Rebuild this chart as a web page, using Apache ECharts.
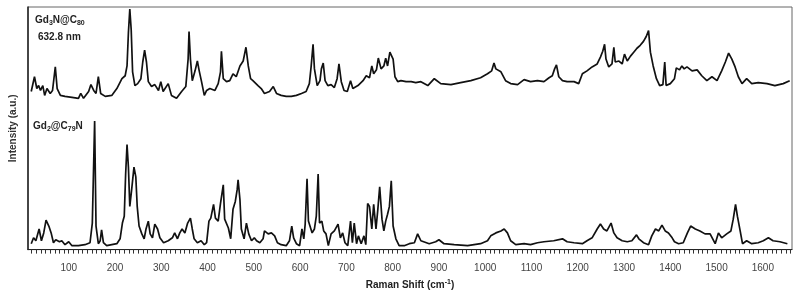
<!DOCTYPE html>
<html>
<head>
<meta charset="utf-8">
<script src="https://cdn.jsdelivr.net/npm/echarts@6/dist/echarts.min.js"></script>
<style>
  html, body { margin: 0; padding: 0; background: #fff; }
  #chart { width: 800px; height: 295px; }
</style>
</head>
<body>
<div id="chart"></div>
<script>
// Raman spectra: [shift cm-1, intensity a.u. (offset stacked)]
const gd3nC80 = [
  [19,161],[26,176],[31,164],[35,167],[39,162],[44,167],[48,157],[53,164],[60,159],[65,162],
  [71,186],[75,164],[82,157],[92,156],[107,155],[121,154],[126,159],[132,154],[143,161],[148,168],
  [154,162],[159,159],[164,176],[169,159],[179,156],[193,157],[204,164],[215,174],[222,177],[226,187],
  [229,221],[232,245],[235,224],[238,181],[243,167],[249,169],[256,174],[260,191],[264,203],[268,191],
  [272,171],[279,166],[286,168],[294,162],[299,171],[304,161],[315,169],[322,157],[333,154],[344,161],
  [353,166],[358,194],[360,222],[363,194],[367,172],[373,182],[378,192],[382,182],[387,171],[393,157],
  [398,162],[405,164],[416,162],[423,169],[428,181],[430,202],[434,174],[441,171],[448,172],[455,179],
  [462,176],[470,187],[477,192],[480,199],[483,206],[488,187],[493,174],[498,172],[502,174],[509,167],
  [516,164],[523,159],[534,161],[542,166],[549,159],[559,157],[570,156],[581,156],[592,157],[603,159],
  [613,161],[620,169],[624,187],[628,209],[631,184],[637,167],[643,172],[646,184],[650,190],[654,172],
  [660,167],[667,168],[674,165],[680,174],[684,189],[689,171],[695,162],[702,161],[709,172],[714,164],
  [725,167],[736,172],[743,177],[750,175],[755,187],[759,179],[765,183],[769,195],[775,184],[781,187],
  [785,195],[789,187],[794,201],[797,203],[801,194],[805,176],[811,171],[818,172],[829,171],[840,171],
  [850,170],[861,171],[876,167],[890,174],[904,169],[926,168],[947,170],[969,172],[990,175],[1005,179],
  [1014,182],[1019,190],[1023,184],[1034,181],[1044,172],[1055,169],[1070,168],[1084,173],[1098,171],[1113,172],
  [1127,171],[1138,175],[1145,177],[1150,184],[1154,188],[1159,176],[1167,172],[1177,171],[1192,171],[1202,169],
  [1210,179],[1220,182],[1231,186],[1242,189],[1249,196],[1254,202],[1258,209],[1261,194],[1267,186],[1274,189],
  [1278,206],[1281,191],[1289,192],[1296,189],[1301,199],[1307,192],[1314,197],[1321,201],[1328,205],[1335,208],
  [1342,212],[1348,217],[1353,223],[1357,201],[1363,187],[1370,174],[1377,167],[1384,168],[1388,191],[1391,167],
  [1400,169],[1409,174],[1413,185],[1420,183],[1425,187],[1430,184],[1436,186],[1447,182],[1458,183],[1468,177],
  [1479,172],[1490,176],[1501,172],[1511,182],[1519,191],[1526,200],[1533,194],[1540,186],[1547,176],[1555,169],
  [1565,174],[1576,169],[1590,170],[1609,169],[1626,167],[1644,169],[1658,172]
];

const gd2C79N = [
  [19,6],[24,12],[29,9],[36,21],[41,9],[46,17],[51,30],[57,24],[62,17],[67,7],
  [72,10],[80,8],[85,9],[92,5],[100,8],[107,4],[121,4],[135,5],[146,7],[151,27],
  [156,131],[159,24],[164,6],[168,9],[171,20],[175,7],[182,4],[193,5],[204,6],[211,11],
  [216,27],[220,34],[223,77],[226,107],[229,84],[232,44],[236,61],[241,84],[245,74],[248,44],
  [252,24],[258,16],[263,11],[267,21],[272,29],[276,16],[281,12],[286,26],[292,21],[297,12],
  [305,7],[315,9],[324,12],[329,17],[335,11],[340,17],[345,21],[351,17],[357,27],[363,32],
  [367,21],[371,11],[378,7],[386,9],[393,5],[398,7],[403,29],[407,32],[413,46],[417,32],
  [423,29],[428,47],[434,66],[437,31],[445,22],[450,11],[455,41],[460,49],[464,61],[466,71],
  [470,51],[473,21],[479,11],[484,27],[489,16],[495,9],[501,12],[506,9],[513,7],[520,11],
  [523,19],[531,16],[538,17],[545,14],[551,7],[559,5],[570,4],[577,9],[582,24],[586,12],
  [592,6],[599,4],[604,21],[608,11],[611,26],[615,72],[618,29],[622,31],[626,17],[631,21],
  [635,34],[639,77],[642,27],[647,29],[651,19],[656,16],[661,4],[667,16],[674,19],[682,26],
  [687,12],[692,17],[697,7],[703,4],[709,29],[713,7],[717,27],[722,6],[726,14],[732,6],
  [738,14],[742,5],[746,47],[750,44],[755,21],[759,46],[764,21],[768,41],[772,64],[777,31],
  [781,19],[785,29],[789,36],[793,44],[797,70],[801,24],[807,11],[814,4],[825,4],[836,6],
  [847,7],[854,16],[861,9],[879,6],[893,8],[900,10],[911,6],[933,5],[962,4],[990,6],
  [1005,9],[1012,14],[1023,17],[1034,19],[1041,21],[1048,17],[1055,9],[1066,5],[1084,6],[1098,5],
  [1113,7],[1127,8],[1148,9],[1167,11],[1177,8],[1192,7],[1210,6],[1220,9],[1231,12],[1242,21],
  [1249,26],[1256,21],[1263,19],[1272,27],[1278,17],[1285,12],[1296,9],[1307,8],[1317,9],[1327,15],
  [1332,11],[1342,7],[1353,5],[1360,14],[1368,21],[1375,19],[1382,25],[1389,19],[1396,17],[1404,12],
  [1409,8],[1418,6],[1428,7],[1437,17],[1444,24],[1454,21],[1464,19],[1475,16],[1486,16],[1497,6],
  [1504,17],[1511,12],[1522,16],[1531,19],[1536,31],[1541,46],[1545,34],[1551,19],[1556,6],[1565,9],
  [1576,6],[1590,7],[1601,9],[1612,12],[1622,9],[1637,8],[1653,6]
];

const xLabels = [100, 200, 300, 400, 500, 600, 700, 800, 900, 1000, 1100, 1200, 1300, 1400, 1500, 1600];
const xMin = 12, xMax = 1663;

const tickValues = [];
for (let v = 20; v <= 1660; v += 10) tickValues.push(v);

const font = "'Liberation Sans', Arial, sans-serif";
const chart = echarts.init(document.getElementById("chart"));

chart.setOption({
  backgroundColor: "#fff",
  animation: false,
  grid: {
    left: 26, right: 8, top: 7, bottom: 41,
    show: true, borderColor: "#666", borderWidth: 1,
  },
  xAxis: {
    type: "value",
    min: xMin,
    max: xMax,
    axisLine: { show: true, lineStyle: { color: "#222", width: 1 } },
    axisTick: {
      show: true, length: 4, inside: false,
      customValues: tickValues,
      lineStyle: { color: "#333", width: 1 },
    },
    axisLabel: {
      customValues: xLabels,
      formatter: (v) => String(v),
      color: "#444", fontSize: 10, fontFamily: font, margin: 14,
    },
    splitLine: { show: false },
    name: "Raman Shift (cm{sup|-1})",
    nameLocation: "middle",
    nameGap: 28,
    nameTextStyle: {
      color: "#222", fontSize: 10, fontWeight: "bold", fontFamily: font,
      rich: { sup: { fontSize: 7, fontWeight: "bold", verticalAlign: "top", padding: [0, 0, 6, 0] } },
    },
  },
  yAxis: {
    type: "value",
    min: 0,
    max: 247,
    axisLine: { show: true, lineStyle: { color: "#222", width: 1.5 } },
    axisTick: { show: false },
    axisLabel: { show: false },
    splitLine: { show: false },
    name: "Intensity (a.u.)",
    nameLocation: "middle",
    nameGap: 10,
    nameRotate: 90,
    nameTextStyle: { color: "#333", fontSize: 10, fontWeight: "bold", fontFamily: font },
  },
  graphic: [
    {
      type: "text", left: 35, top: 15,
      style: {
        text: "Gd{s|3}N@C{s|80}",
        font: "bold 10px " + font, fill: "#222",
        rich: { s: { fontSize: 7, fontWeight: "bold", padding: [6, 0, 0, 0], fill: "#222" } },
      },
    },
    {
      type: "text", left: 38, top: 32,
      style: { text: "632.8 nm", font: "bold 10px " + font, fill: "#222" },
    },
    {
      type: "text", left: 33, top: 121,
      style: {
        text: "Gd{s|2}@C{s|79}N",
        font: "bold 10px " + font, fill: "#222",
        rich: { s: { fontSize: 7, fontWeight: "bold", padding: [6, 0, 0, 0], fill: "#222" } },
      },
    },
  ],
  series: [
    {
      name: "Gd3N@C80",
      type: "line",
      data: gd3nC80,
      showSymbol: false,
      lineStyle: { color: "#111", width: 1.7 },
    },
    {
      name: "Gd2@C79N",
      type: "line",
      data: gd2C79N,
      showSymbol: false,
      lineStyle: { color: "#111", width: 1.7 },
    },
  ],
});
</script>
</body>
</html>
